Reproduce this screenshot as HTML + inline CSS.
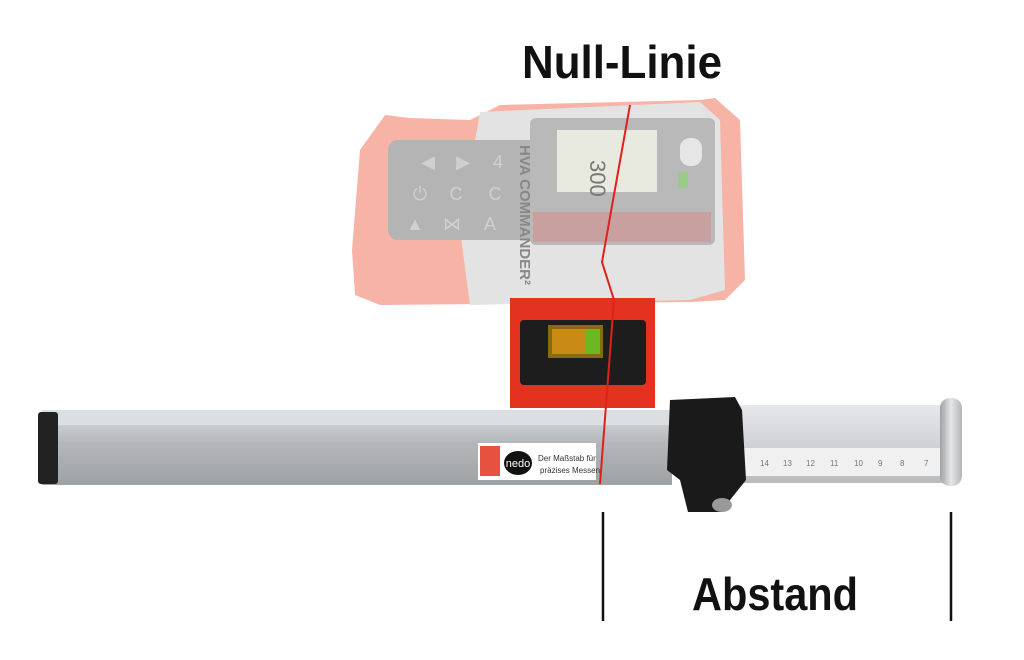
<!DOCTYPE html><html><head><meta charset="utf-8"><style>
html,body{margin:0;padding:0;background:#fff;width:1024px;height:660px;overflow:hidden}
</style></head><body>
<svg width="1024" height="660" viewBox="0 0 1024 660" xmlns="http://www.w3.org/2000/svg">
<defs>
<linearGradient id="bar" x1="0" y1="0" x2="0" y2="1">
<stop offset="0" stop-color="#e4e6e8"/><stop offset="0.2" stop-color="#c9ccce"/><stop offset="0.45" stop-color="#b4b7b9"/><stop offset="1" stop-color="#9fa2a4"/></linearGradient>
<linearGradient id="inner" x1="0" y1="0" x2="0" y2="1">
<stop offset="0" stop-color="#e6e8ea"/><stop offset="0.5" stop-color="#d0d3d5"/><stop offset="1" stop-color="#b9bcbe"/></linearGradient>
<linearGradient id="disc" x1="0" y1="0" x2="1" y2="0">
<stop offset="0" stop-color="#9ea1a3"/><stop offset="0.5" stop-color="#e5e6e7"/><stop offset="1" stop-color="#b4b6b8"/></linearGradient>
</defs>
<!-- device -->
<path d="M352 250 L360 150 L385 115 L410 118 L470 120 L500 105 L700 100 L715 98 L740 120 L745 280 L725 300 L690 302 L380 305 L355 295 Z" fill="#f7b3a6"/>
<path d="M480 112 L700 102 L720 120 L725 290 L690 300 L470 305 L460 230 Z" fill="#e3e3e3"/>
<rect x="388" y="140" width="150" height="100" rx="10" fill="#b4b4b4"/>
<rect x="530" y="118" width="185" height="127" rx="6" fill="#b9b9b9"/>
<rect x="557" y="130" width="100" height="62" fill="#e8eadf"/>
<text x="600" y="170" font-family="Liberation Sans" font-size="22" fill="#777" transform="rotate(90 600 160)">300</text>
<rect x="533" y="212" width="178" height="30" fill="#c9a0a0"/>
<rect x="680" y="138" width="22" height="28" rx="10" fill="#e6e6e6"/>
<rect x="678" y="172" width="10" height="16" fill="#9acb8a"/>
<g fill="#d0d0d0" font-family="Liberation Sans" font-size="18" text-anchor="middle">
<text x="428" y="168">◀</text><text x="463" y="168">▶</text><text x="498" y="168">4</text>
<text x="420" y="200">⏻</text><text x="456" y="200">C</text><text x="495" y="200">C</text>
<text x="415" y="230">▲</text><text x="452" y="230">⋈</text><text x="490" y="230">A</text>
</g>
<text x="520" y="145" font-family="Liberation Sans" font-weight="bold" font-size="15" fill="#888" transform="rotate(90 520 145)">HVA COMMANDER²</text>
<!-- bracket -->
<rect x="510" y="298" width="145" height="110" fill="#e3321f"/>
<rect x="520" y="320" width="126" height="65" rx="4" fill="#1d1d1d"/>
<rect x="548" y="325" width="55" height="33" fill="#8a6a10"/>
<rect x="552" y="329" width="48" height="25" fill="#c98a16"/>
<rect x="585" y="329" width="15" height="25" fill="#6fb623"/>
<!-- main bar -->
<rect x="42" y="410" width="630" height="75" fill="url(#bar)"/>
<rect x="42" y="410" width="630" height="15" fill="#dcdfe1"/>
<rect x="38" y="412" width="20" height="72" rx="3" fill="#222"/>
<!-- label -->
<rect x="478" y="443" width="118" height="37" fill="#fff"/>
<rect x="480" y="446" width="20" height="30" fill="#e3321f" opacity="0.85"/>
<ellipse cx="518" cy="463" rx="14" ry="12" fill="#111"/>
<text x="518" y="467" font-family="Liberation Sans" font-size="11" fill="#fff" text-anchor="middle">nedo</text>
<text x="538" y="461" font-family="Liberation Sans" font-size="8" fill="#333">Der Maßstab für</text>
<text x="540" y="473" font-family="Liberation Sans" font-size="8" fill="#333">präzises Messen</text>
<!-- inner bar -->
<rect x="740" y="405" width="205" height="78" fill="url(#inner)"/>
<rect x="740" y="448" width="200" height="28" fill="#f0f0f0"/>
<g font-family="Liberation Sans" font-size="8" fill="#777">
<text x="760" y="466">14</text><text x="783" y="466">13</text><text x="806" y="466">12</text><text x="830" y="466">11</text><text x="854" y="466">10</text><text x="878" y="466">9</text><text x="900" y="466">8</text><text x="924" y="466">7</text></g>
<rect x="940" y="398" width="22" height="88" rx="10" fill="url(#disc)"/>
<!-- clamp -->
<path d="M670 400 L735 397 L742 410 L746 480 L730 500 L722 512 L688 512 L680 480 L667 470 Z" fill="#1a1a1a"/>
<ellipse cx="722" cy="505" rx="10" ry="7" fill="#999"/>
<!-- red null line -->
<polyline points="630,105 602,262 614,300 600,484" fill="none" stroke="#e0201a" stroke-width="2"/>
<!-- ticks -->
<line x1="603" y1="512" x2="603" y2="621" stroke="#111" stroke-width="2.5"/>
<line x1="951" y1="512" x2="951" y2="621" stroke="#111" stroke-width="2.5"/>
<text x="622" y="78" font-family="Liberation Sans Narrow, Liberation Sans, sans-serif" font-weight="bold" font-size="46" text-anchor="middle" fill="#111" textLength="200" lengthAdjust="spacingAndGlyphs">Null-Linie</text>
<text x="775" y="610" font-family="Liberation Sans Narrow, Liberation Sans, sans-serif" font-weight="bold" font-size="46" text-anchor="middle" fill="#111" textLength="166" lengthAdjust="spacingAndGlyphs">Abstand</text>
</svg>
</body></html>
